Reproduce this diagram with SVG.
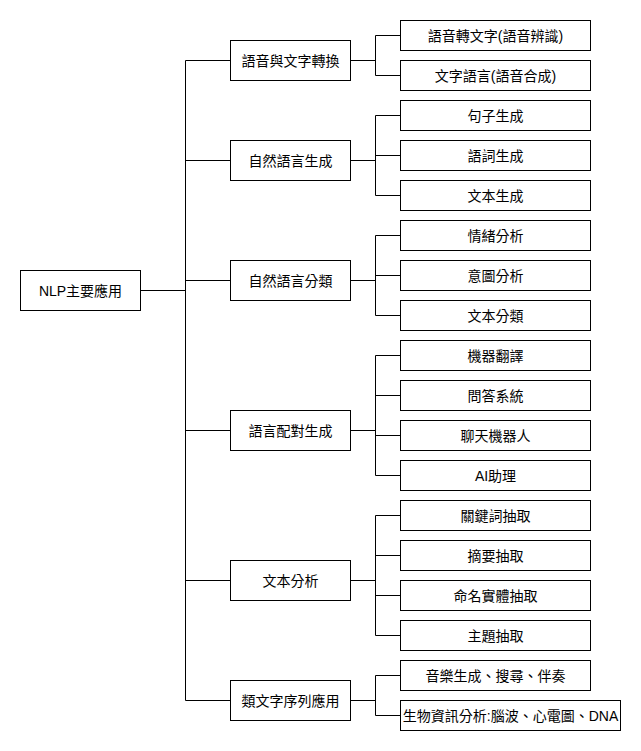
<svg xmlns="http://www.w3.org/2000/svg" width="641" height="751" viewBox="0 0 641 751">
<style>
rect{fill:#fff;stroke:#000;stroke-width:1}
text{font-family:"Liberation Sans","Noto Sans CJK TC",sans-serif;font-size:14px;fill:#000;text-anchor:middle;dominant-baseline:central}
#connectors path{fill:none;stroke:#000;stroke-width:1}
</style>
<rect x="0" y="0" width="641" height="751" style="stroke:none"/>
<g id="connectors">
<path d="M140.5 290.5H185.5M185.5 60.5V700.5M185.5 60.5H230.5M185.5 160.5H230.5M185.5 280.5H230.5M185.5 430.5H230.5M185.5 580.5H230.5M185.5 700.5H230.5"/>
<path d="M350.5 60.5H375.5M375.5 35.5V75.5M375.5 35.5H400.5M375.5 75.5H400.5"/>
<path d="M350.5 160.5H375.5M375.5 115.5V195.5M375.5 115.5H400.5M375.5 155.5H400.5M375.5 195.5H400.5"/>
<path d="M350.5 280.5H375.5M375.5 235.5V315.5M375.5 235.5H400.5M375.5 275.5H400.5M375.5 315.5H400.5"/>
<path d="M350.5 430.5H375.5M375.5 355.5V475.5M375.5 355.5H400.5M375.5 395.5H400.5M375.5 435.5H400.5M375.5 475.5H400.5"/>
<path d="M350.5 580.5H375.5M375.5 515.5V635.5M375.5 515.5H400.5M375.5 555.5H400.5M375.5 595.5H400.5M375.5 635.5H400.5"/>
<path d="M350.5 700.5H375.5M375.5 675.5V715.5M375.5 675.5H400.5M375.5 715.5H400.5"/>
</g>
<g id="root"><rect x="20.5" y="270.5" width="120" height="40"/><text x="80.5" y="290.5">NLP主要應用</text></g>
<g id="c1"><rect x="230.5" y="40.5" width="120" height="40"/><text x="290.5" y="60.5">語音與文字轉換</text></g>
<g id="c2"><rect x="230.5" y="140.5" width="120" height="40"/><text x="290.5" y="160.5">自然語言生成</text></g>
<g id="c3"><rect x="230.5" y="260.5" width="120" height="40"/><text x="290.5" y="280.5">自然語言分類</text></g>
<g id="c4"><rect x="230.5" y="410.5" width="120" height="40"/><text x="290.5" y="430.5">語言配對生成</text></g>
<g id="c5"><rect x="230.5" y="560.5" width="120" height="40"/><text x="290.5" y="580.5">文本分析</text></g>
<g id="c6"><rect x="230.5" y="680.5" width="120" height="40"/><text x="290.5" y="700.5">類文字序列應用</text></g>
<g id="l1"><rect x="400.5" y="20.5" width="190" height="30"/><text x="495.5" y="35.5">語音轉文字(語音辨識)</text></g>
<g id="l2"><rect x="400.5" y="60.5" width="190" height="30"/><text x="495.5" y="75.5">文字語言(語音合成)</text></g>
<g id="l3"><rect x="400.5" y="100.5" width="190" height="30"/><text x="495.5" y="115.5">句子生成</text></g>
<g id="l4"><rect x="400.5" y="140.5" width="190" height="30"/><text x="495.5" y="155.5">語詞生成</text></g>
<g id="l5"><rect x="400.5" y="180.5" width="190" height="30"/><text x="495.5" y="195.5">文本生成</text></g>
<g id="l6"><rect x="400.5" y="220.5" width="190" height="30"/><text x="495.5" y="235.5">情緒分析</text></g>
<g id="l7"><rect x="400.5" y="260.5" width="190" height="30"/><text x="495.5" y="275.5">意圖分析</text></g>
<g id="l8"><rect x="400.5" y="300.5" width="190" height="30"/><text x="495.5" y="315.5">文本分類</text></g>
<g id="l9"><rect x="400.5" y="340.5" width="190" height="30"/><text x="495.5" y="355.5">機器翻譯</text></g>
<g id="l10"><rect x="400.5" y="380.5" width="190" height="30"/><text x="495.5" y="395.5">問答系統</text></g>
<g id="l11"><rect x="400.5" y="420.5" width="190" height="30"/><text x="495.5" y="435.5">聊天機器人</text></g>
<g id="l12"><rect x="400.5" y="460.5" width="190" height="30"/><text x="495.5" y="475.5">AI助理</text></g>
<g id="l13"><rect x="400.5" y="500.5" width="190" height="30"/><text x="495.5" y="515.5">關鍵詞抽取</text></g>
<g id="l14"><rect x="400.5" y="540.5" width="190" height="30"/><text x="495.5" y="555.5">摘要抽取</text></g>
<g id="l15"><rect x="400.5" y="580.5" width="190" height="30"/><text x="495.5" y="595.5">命名實體抽取</text></g>
<g id="l16"><rect x="400.5" y="620.5" width="190" height="30"/><text x="495.5" y="635.5">主題抽取</text></g>
<g id="l17"><rect x="400.5" y="660.5" width="190" height="30"/><text x="495.5" y="675.5">音樂生成、搜尋、伴奏</text></g>
<g id="l18"><rect x="400.5" y="700.5" width="220" height="30"/><text x="510.5" y="715.5">生物資訊分析:腦波、心電圖、DNA</text></g>
</svg>
